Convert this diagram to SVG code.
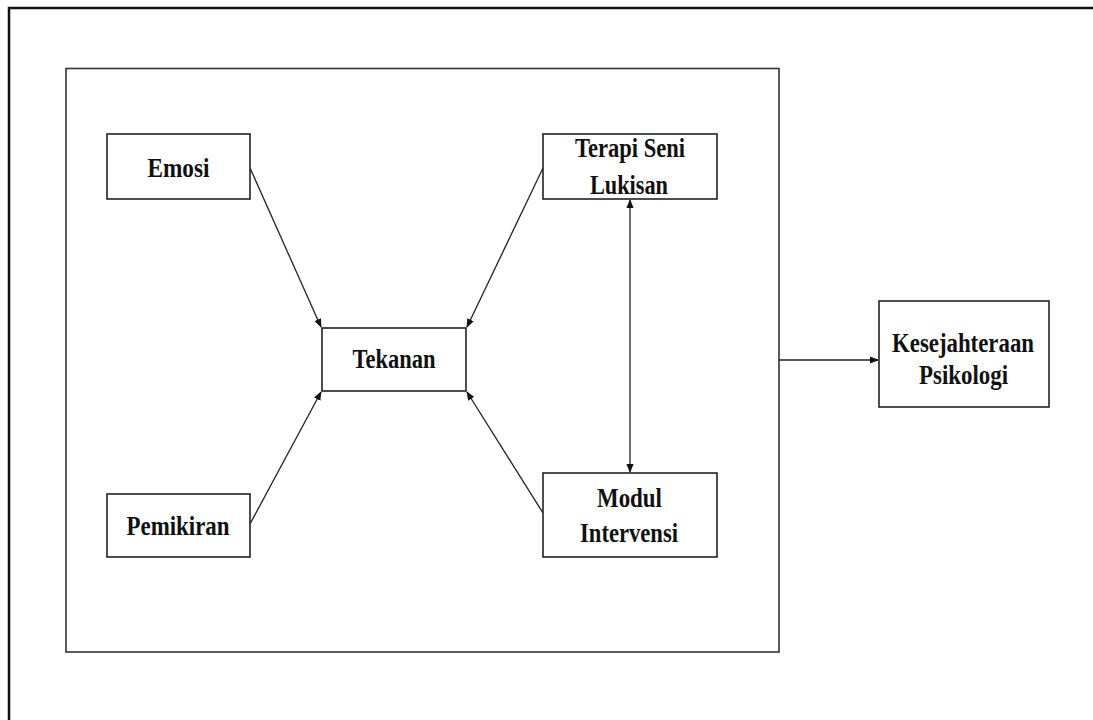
<svg xmlns="http://www.w3.org/2000/svg" width="1093" height="720" viewBox="0 0 1093 720">
<style>
.box{fill:#fff;stroke:#222;stroke-width:1.6}
.lbl{font-family:"Liberation Serif","Times New Roman",serif;font-weight:bold;font-size:27px;fill:#111;text-anchor:middle}
.con{stroke:#222;stroke-width:1.3;fill:none}
</style>
<defs>
<marker id="ah" viewBox="0 0 10 10" refX="9" refY="5" markerWidth="9" markerHeight="9" markerUnits="userSpaceOnUse" orient="auto-start-reverse">
<path d="M0,1 L10,5 L0,9 z" fill="#111"/>
</marker>
</defs>
<rect width="1093" height="720" fill="#fff"/>
<g id="outer-frame"><path d="M9,720 V8 H1093" fill="none" stroke="#111" stroke-width="2.5"/></g>
<g id="inner-frame"><rect x="66" y="68.5" width="713" height="583.5" fill="none" stroke="#333" stroke-width="1.6"/></g>
<g id="connectors">
<line class="con" x1="250" y1="168" x2="321" y2="327" marker-end="url(#ah)"/>
<line class="con" x1="543" y1="168" x2="467" y2="327" marker-end="url(#ah)"/>
<line class="con" x1="250" y1="524" x2="321" y2="392" marker-end="url(#ah)"/>
<line class="con" x1="543" y1="513" x2="467" y2="392" marker-end="url(#ah)"/>
<line class="con" x1="630" y1="200" x2="630" y2="472" marker-start="url(#ah)" marker-end="url(#ah)"/>
<line class="con" x1="779" y1="360" x2="878" y2="360" marker-end="url(#ah)"/>
</g>
<g id="emosi"><rect class="box" x="107" y="134" width="143" height="65"/><text class="lbl" x="178.5" y="177" textLength="62" lengthAdjust="spacingAndGlyphs">Emosi</text></g>
<g id="tekanan"><rect class="box" x="322" y="328" width="144" height="63"/><text class="lbl" x="394" y="368" textLength="83" lengthAdjust="spacingAndGlyphs">Tekanan</text></g>
<g id="terapi"><rect class="box" x="543" y="134" width="174" height="65"/><text class="lbl" x="630" y="157" textLength="110" lengthAdjust="spacingAndGlyphs">Terapi Seni</text><text class="lbl" x="629" y="194" textLength="78" lengthAdjust="spacingAndGlyphs">Lukisan</text></g>
<g id="pemikiran"><rect class="box" x="107" y="494" width="143" height="63"/><text class="lbl" x="178" y="535" textLength="103" lengthAdjust="spacingAndGlyphs">Pemikiran</text></g>
<g id="modul"><rect class="box" x="543" y="473" width="174" height="84"/><text class="lbl" x="629.5" y="507" textLength="65" lengthAdjust="spacingAndGlyphs">Modul</text><text class="lbl" x="629" y="542" textLength="98" lengthAdjust="spacingAndGlyphs">Intervensi</text></g>
<g id="kesejahteraan"><rect class="box" x="879" y="301" width="170" height="106"/><text class="lbl" x="963" y="352" textLength="142" lengthAdjust="spacingAndGlyphs">Kesejahteraan</text><text class="lbl" x="963.5" y="384" textLength="89" lengthAdjust="spacingAndGlyphs">Psikologi</text></g>
</svg>
